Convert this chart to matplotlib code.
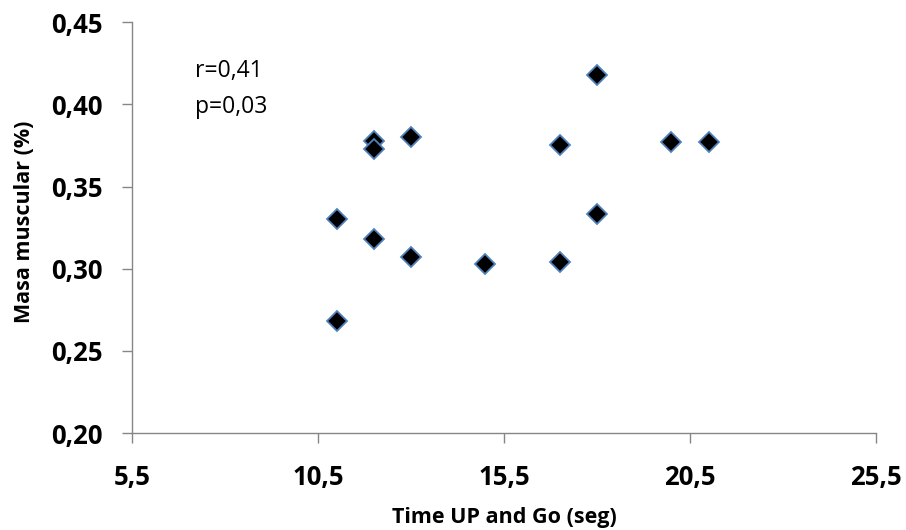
import matplotlib
matplotlib.use("Agg")
import matplotlib.pyplot as plt
from matplotlib.ticker import FuncFormatter

tug_seconds = [11.0, 11.0, 12.0, 12.0, 13.0, 12.0, 13.0, 15.0, 17.0, 17.0, 18.0, 18.0, 20.0, 21.0]
muscle_mass = [0.330, 0.268, 0.378, 0.373, 0.380, 0.318, 0.307, 0.303, 0.375, 0.304, 0.418, 0.333, 0.377, 0.377]
x_ticks = [5.5, 10.5, 15.5, 20.5, 25.5]
y_ticks = [0.20, 0.25, 0.30, 0.35, 0.40, 0.45]
annotation_lines = ["r=0,41", "p=0,03"]

plt.rcParams['font.family'] = ['Open Sans', 'DejaVu Sans']

fig = plt.figure(figsize=(9.06, 5.30), dpi=100)
ax = fig.add_axes([0.1457, 0.183, 0.8212, 0.775])

ax.plot(tug_seconds, muscle_mass, linestyle='none', marker='D', markersize=10,
        markerfacecolor='black', markeredgecolor='#4f81bd', markeredgewidth=1.3,
        clip_on=False, zorder=3)

ax.set_xlim(x_ticks[0], x_ticks[-1])
ax.set_ylim(y_ticks[0], y_ticks[-1])
ax.set_xticks(x_ticks)
ax.set_yticks(y_ticks)
ax.xaxis.set_major_formatter(FuncFormatter(lambda v, p: f"{v:.1f}".replace('.', ',')))
ax.yaxis.set_major_formatter(FuncFormatter(lambda v, p: f"{v:.2f}".replace('.', ',')))

for s in ['top', 'right']:
    ax.spines[s].set_visible(False)
for s in ['left', 'bottom']:
    ax.spines[s].set_color('#868686')
    ax.spines[s].set_linewidth(1.0)

ax.tick_params(axis='both', which='major', direction='out', length=7, width=1.0,
               color='#868686', labelsize=18.5)
ax.tick_params(axis='x', pad=15)
ax.tick_params(axis='y', pad=14)
for lbl in ax.get_xticklabels() + ax.get_yticklabels():
    lbl.set_fontweight('bold')

ax.set_xlabel('Time UP and Go (seg)', fontsize=15.5, fontweight='bold')
ax.set_ylabel('Masa muscular (%)', fontsize=15.5, fontweight='bold')
ax.xaxis.set_label_coords(0.5, -0.18)
ax.yaxis.set_label_coords(-0.130, 0.513)

ax.text(7.19, 0.4167, annotation_lines[0], fontsize=16.5, va='baseline', ha='left')
ax.text(7.19, 0.3948, annotation_lines[1], fontsize=16.5, va='baseline', ha='left')

fig.savefig('out.png', dpi=100)
